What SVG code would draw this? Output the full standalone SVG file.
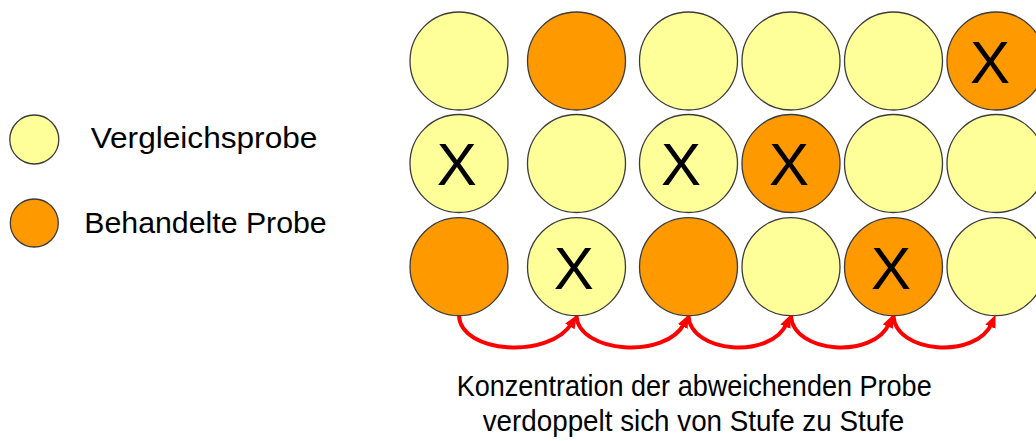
<svg xmlns="http://www.w3.org/2000/svg" width="1036" height="441" viewBox="0 0 1036 441">
<defs>
<style>
.y{fill:#FFFF99;stroke:#3c3c3c;stroke-width:1.3}
.o{fill:#FF9900;stroke:#3c3c3c;stroke-width:1.3}
.x{font-family:"Liberation Sans",Arial,sans-serif;font-size:60px;fill:#000;text-anchor:middle}
.t{font-family:"Liberation Sans",Arial,sans-serif;fill:#000}
.a{fill:none;stroke:#FF0000;stroke-width:4}
</style>
<marker id="ah" markerUnits="userSpaceOnUse" markerWidth="14" markerHeight="12" refX="4" refY="6" orient="auto">
<path d="M0,0.5 L13,6 L0,11.5 z" fill="#FF0000"/>
</marker>
</defs>
<rect width="1036" height="441" fill="#fff"/>
<g id="legend">
<g id="legend-vergleich"><circle class="y" cx="34.3" cy="139.5" r="24.5"/><text class="t" x="90.7" y="148.3" font-size="29" textLength="226.7" lengthAdjust="spacingAndGlyphs">Vergleichsprobe</text></g>
<g id="legend-behandelt"><circle class="o" cx="34.3" cy="223" r="24"/><text class="t" x="84.3" y="233" font-size="29" textLength="242.4" lengthAdjust="spacingAndGlyphs">Behandelte Probe</text></g>
</g>
<g id="row1">
<g id="r1c1"><circle class="y" cx="459" cy="61" r="49"/></g>
<g id="r1c2"><circle class="o" cx="576.5" cy="61" r="49"/></g>
<g id="r1c3"><circle class="y" cx="688.5" cy="61" r="49"/></g>
<g id="r1c4"><circle class="y" cx="791" cy="61" r="49"/></g>
<g id="r1c5"><circle class="y" cx="893.5" cy="61" r="49"/></g>
<g id="r1c6"><circle class="o" cx="996" cy="61" r="49"/><text class="x" x="990" y="83.3">X</text></g>
</g>
<g id="row2">
<g id="r2c1"><circle class="y" cx="459" cy="163.5" r="49"/><text class="x" x="456.7" y="185">X</text></g>
<g id="r2c2"><circle class="y" cx="576.5" cy="163.5" r="49"/></g>
<g id="r2c3"><circle class="y" cx="688.5" cy="163.5" r="49"/><text class="x" x="681" y="185">X</text></g>
<g id="r2c4"><circle class="o" cx="791" cy="163.5" r="49"/><text class="x" x="789" y="185">X</text></g>
<g id="r2c5"><circle class="y" cx="893.5" cy="163.5" r="49"/></g>
<g id="r2c6"><circle class="y" cx="996" cy="163.5" r="49"/></g>
</g>
<g id="row3">
<g id="r3c1"><circle class="o" cx="459" cy="266.7" r="49"/></g>
<g id="r3c2"><circle class="y" cx="576.5" cy="266.7" r="49"/><text class="x" x="573.7" y="289">X</text></g>
<g id="r3c3"><circle class="o" cx="688.5" cy="266.7" r="49"/></g>
<g id="r3c4"><circle class="y" cx="791" cy="266.7" r="49"/></g>
<g id="r3c5"><circle class="o" cx="893.5" cy="266.7" r="49"/><text class="x" x="891" y="289">X</text></g>
<g id="r3c6"><circle class="y" cx="996" cy="266.7" r="49"/></g>
</g>
<g id="connectors">
<path class="a" marker-end="url(#ah)" d="M459,316 C461,353 549,360 572,323"/>
<path class="a" marker-end="url(#ah)" d="M576.5,316 C578.5,353 666,360 684.5,323"/>
<path class="a" marker-end="url(#ah)" d="M688.5,316 C690.5,353 771,360 787,323"/>
<path class="a" marker-end="url(#ah)" d="M791,316 C793,353 873.5,360 889.5,323"/>
<path class="a" marker-end="url(#ah)" d="M893.5,316 C895.5,353 976,360 992,323"/>
</g>
<g id="caption">
<text class="t" x="456.7" y="396" font-size="30" textLength="475" lengthAdjust="spacingAndGlyphs">Konzentration der abweichenden Probe</text>
<text class="t" x="482.7" y="431" font-size="30" textLength="421.6" lengthAdjust="spacingAndGlyphs">verdoppelt sich von Stufe zu Stufe</text>
</g>
</svg>
